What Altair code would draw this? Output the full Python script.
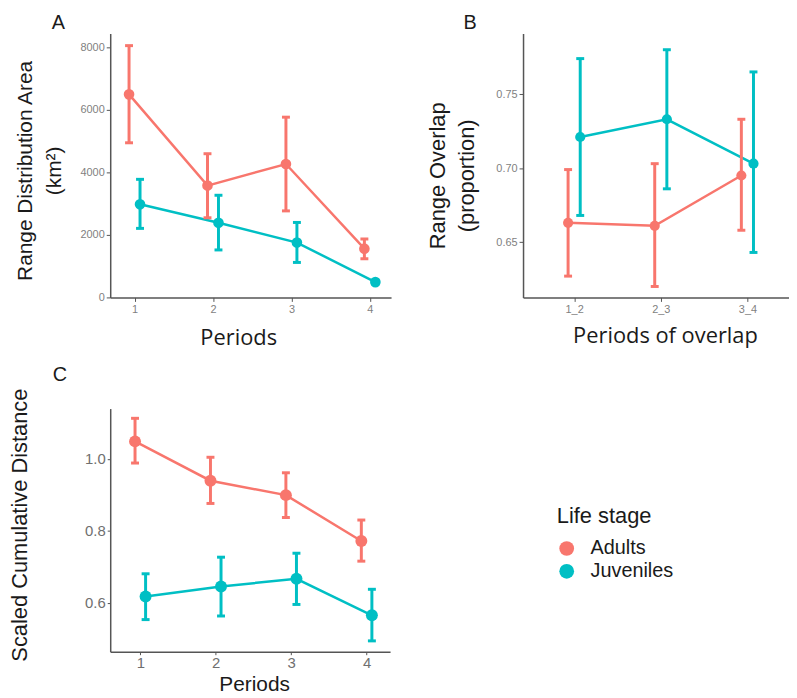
import altair as alt
import pandas as pd

# ---------------- data ----------------
stages = ["Adults", "Juveniles"]
stage_colors = ["#F8766D", "#00BFC4"]

periods = [1, 2, 3, 4]
period_ticks = [1, 2, 3, 4]

# Panel A: Range distribution area (km2)
A_adult_mean = [6500, 3580, 4270, 1560]
A_adult_lo = [4950, 2550, 2770, 1240]
A_adult_hi = [8060, 4600, 5770, 1870]
A_juv_mean = [2980, 2390, 1755, 490]
A_juv_lo = [2210, 1520, 1120, 430]
A_juv_hi = [3780, 3270, 2400, 550]
A_yticks = [0, 2000, 4000, 6000, 8000]

# Panel B: Range overlap (proportion)
overlap_idx = [1, 2, 3]
overlap_labels = ["1_2", "2_3", "3_4"]
B_adult_mean = [0.663, 0.661, 0.695]
B_adult_lo = [0.627, 0.620, 0.658]
B_adult_hi = [0.699, 0.703, 0.733]
B_juv_mean = [0.721, 0.733, 0.703]
B_juv_lo = [0.668, 0.686, 0.643]
B_juv_hi = [0.774, 0.780, 0.765]
B_yticks = [0.65, 0.70, 0.75]

# Panel C: Scaled cumulative distance
C_adult_mean = [1.048, 0.939, 0.899, 0.772]
C_adult_lo = [0.988, 0.876, 0.837, 0.716]
C_adult_hi = [1.112, 1.004, 0.961, 0.830]
C_juv_mean = [0.618, 0.646, 0.667, 0.566]
C_juv_lo = [0.554, 0.564, 0.596, 0.495]
C_juv_hi = [0.681, 0.727, 0.738, 0.638]
C_yticks = [0.6, 0.8, 1.0]


def make_df(xs, am, al, ah, jm, jl, jh):
    rows = []
    for i, x in enumerate(xs):
        rows.append({"x": x, "stage": "Adults", "mean": am[i], "lo": al[i], "hi": ah[i]})
    for i, x in enumerate(xs):
        rows.append({"x": x, "stage": "Juveniles", "mean": jm[i], "lo": jl[i], "hi": jh[i]})
    return pd.DataFrame(rows)


dfA = make_df(periods, A_adult_mean, A_adult_lo, A_adult_hi, A_juv_mean, A_juv_lo, A_juv_hi)
dfB = make_df(overlap_idx, B_adult_mean, B_adult_lo, B_adult_hi, B_juv_mean, B_juv_lo, B_juv_hi)
dfC = make_df(periods, C_adult_mean, C_adult_lo, C_adult_hi, C_juv_mean, C_juv_lo, C_juv_hi)

# legend colour scale (explicit domain) and mark colour scales (data domain)
color_scale = alt.Scale(domain=stages, range=stage_colors)
mark_scale = alt.Scale(range=stage_colors)

AXIS_GRAY = "#555555"


def panel(df, letter, letter_dx, letter_offset, xdom, ydom, w, h, xvals, yvals,
          yfmt, ytitle, ytitle_x, ytitle_y, ytitle_size, xtitle, xtitle_x, xtitle_y,
          xtitle_size, xtitle_font, label_size, label_font, label_color, tick_size,
          xlabel_pad, point_size, x_label_expr=None, show_legend=False):
    xaxis_kwargs = dict(
        values=xvals, title=xtitle, grid=False, format="d",
        titleFont=xtitle_font, titleFontSize=xtitle_size, titleFontWeight="normal",
        titleColor="#1a1a1a", titleX=xtitle_x, titleY=xtitle_y,
        titleBaseline="alphabetic", titleAlign="center",
        labelFont=label_font, labelFontSize=label_size, labelColor=label_color,
        labelPadding=xlabel_pad, tickSize=tick_size, tickColor=AXIS_GRAY,
        domainColor=AXIS_GRAY, domainWidth=1.5, labelFlush=False,
    )
    if x_label_expr is not None:
        xaxis_kwargs["labelExpr"] = x_label_expr
    xaxis = alt.Axis(**xaxis_kwargs)
    yaxis = alt.Axis(
        values=yvals, title=ytitle, grid=False, format=yfmt,
        titleFont="Liberation Sans", titleFontSize=ytitle_size, titleFontWeight="normal",
        titleColor="#1a1a1a", titleX=ytitle_x, titleY=ytitle_y,
        titleBaseline="alphabetic", titleAlign="center", titleLineHeight=29,
        labelFont=label_font, labelFontSize=label_size, labelColor=label_color,
        labelPadding=2, tickSize=tick_size, tickColor=AXIS_GRAY,
        domainColor=AXIS_GRAY, domainWidth=1.5, labelFlush=False,
    )
    xs = alt.Scale(domain=xdom, nice=False, zero=False)
    ys = alt.Scale(domain=ydom, nice=False, zero=False)

    base = alt.Chart(df).transform_calculate(
        xd="datum.x + (datum.stage == 'Adults' ? -0.07 : 0.07)"
    )
    X = alt.X("xd:Q", scale=xs, axis=xaxis)
    stroke_enc = alt.Stroke("stage:N", scale=mark_scale, legend=None)
    fill_enc = alt.Fill("stage:N", scale=mark_scale, legend=None)

    line = base.mark_line(strokeWidth=2.5).encode(
        x=X, y=alt.Y("mean:Q", scale=ys, axis=yaxis), stroke=stroke_enc
    )
    rule = base.mark_rule(strokeWidth=3).encode(
        x=X, y=alt.Y("lo:Q", scale=ys, axis=yaxis), y2="hi:Q", stroke=stroke_enc
    )
    cap_lo = base.mark_tick(orient="horizontal", size=8, thickness=3, opacity=1).encode(
        x=X, y=alt.Y("lo:Q", scale=ys, axis=yaxis), fill=fill_enc
    )
    cap_hi = base.mark_tick(orient="horizontal", size=8, thickness=3, opacity=1).encode(
        x=X, y=alt.Y("hi:Q", scale=ys, axis=yaxis), fill=fill_enc
    )
    if show_legend:
        pt_enc = {"color": alt.Color(
            "stage:N", scale=color_scale,
            legend=alt.Legend(
                title="Life stage", orient="none", legendX=450, legendY=476,
                titleFont="Liberation Sans", titleFontSize=22, titleFontWeight="normal",
                titleColor="#1a1a1a", titlePadding=11,
                labelFont="Liberation Sans", labelFontSize=20, labelColor="#1a1a1a",
                symbolType="circle", symbolSize=220, symbolStrokeWidth=0,
                symbolOpacity=1, rowPadding=3, labelOffset=14, padding=0,
            ),
        )}
    else:
        pt_enc = {"fill": fill_enc}
    pts = base.mark_circle(size=point_size, opacity=1).encode(
        x=X, y=alt.Y("mean:Q", scale=ys, axis=yaxis), **pt_enc
    )

    return alt.layer(line, rule, cap_lo, cap_hi, pts).properties(
        width=w, height=h,
        title=alt.TitleParams(
            letter, anchor="start", frame="group", dx=letter_dx, offset=letter_offset,
            font="Liberation Sans", fontSize=20, fontWeight="normal", color="#1a1a1a",
            baseline="alphabetic",
        ),
    )


b_label_expr = "[" + ",".join("'" + s + "'" for s in overlap_labels) + "][datum.value - 1]"

chartA = panel(
    dfA, "A", -59, -16, [0.69, 4.27], [0, 8450], 283, 266, period_ticks, A_yticks, "d",
    ["Range Distribution Area", "(km²)"], -79, 138, 21,
    "Periods", 129, 47, 22, "Open Sans", 11, "Liberation Sans", "#7f7f7f", 4, 2, 115,
)
chartB = panel(
    dfB, "B", -60, -16, [0.41, 3.48], [0.6126, 0.791], 268, 266, overlap_idx, B_yticks, ".2f",
    ["Range Overlap", "(proportion)"], -79, 143, 22,
    "Periods of overlap", 143, 45, 22, "Open Sans", 11, "Liberation Sans", "#7f7f7f", 4, 2, 105,
    x_label_expr=b_label_expr,
)
chartC = panel(
    dfC, "C", -58, -13, [0.601, 4.311], [0.465, 1.139], 282, 245, period_ticks, C_yticks, ".1f",
    "Scaled Cumulative Distance", -84, 117, 22,
    "Periods", 145, 39, 21, "Liberation Sans", 15, "Liberation Sans", "#6f6f6f", 3, 1, 145,
    show_legend=True,
)

chart = alt.concat(
    chartA, chartB, chartC, columns=2, bounds="flush",
    spacing=alt.RowColnumber(row=112, column=133),
).resolve_scale(
    color="shared", fill="shared", stroke="shared"
).properties(padding={"left": 0, "top": 3, "right": 0, "bottom": 0}).configure_view(
    stroke=None
)

chart.save("out.html", embed_options={"renderer": "svg", "actions": False})
